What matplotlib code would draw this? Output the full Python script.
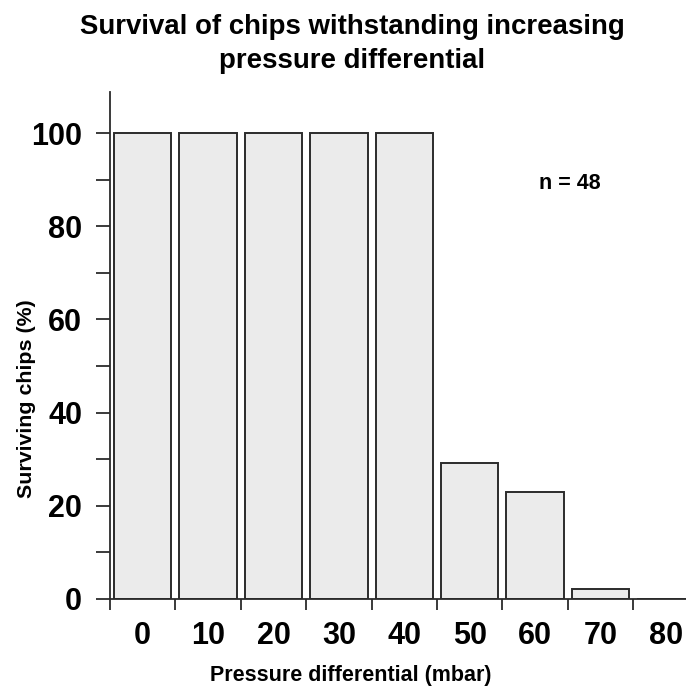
import matplotlib
matplotlib.use("Agg")
import matplotlib.pyplot as plt
import numpy as np

pressure = [0, 10, 20, 30, 40, 50, 60, 70, 80]
surviving = [100, 100, 100, 100, 100, 29.2, 22.9, 2.1, 0]
n_label = "n = 48"
title_lines = ["Survival of chips withstanding increasing", "pressure differential"]

plt.rcParams['font.family'] = ['Liberation Sans', 'DejaVu Sans']
plt.rcParams['font.weight'] = 'bold'

W, H = 686, 687
fig = plt.figure(figsize=(W / 100, H / 100), dpi=100)
left, right, bottom, top = 110, 698.6, 599, 92
ax = fig.add_axes([left / W, (H - bottom) / H, (right - left) / W, (bottom - top) / H])

edge = '#2b2b2b'
ax.bar(pressure, surviving, width=8.8, color='#ebebeb', edgecolor=edge, linewidth=1.4, zorder=2)

ax.set_xlim(-5, 85)
ax.set_ylim(0, 108.8)

for s in ['top', 'right']:
    ax.spines[s].set_visible(False)
for s in ['left', 'bottom']:
    ax.spines[s].set_color(edge)
    ax.spines[s].set_linewidth(1.3)

ax.set_xticks(pressure)
ax.set_xticklabels([str(p) for p in pressure], fontsize=22, fontweight='bold')
ax.set_xticks(np.arange(-5, 90, 10), minor=True)
ax.tick_params(axis='x', which='major', length=0, pad=16)
ax.tick_params(axis='x', which='minor', length=8, width=1.3, color=edge)

ax.set_yticks(np.arange(0, 101, 20))
ax.set_yticklabels([str(v) for v in range(0, 101, 20)], fontsize=22, fontweight='bold')
ax.set_yticks(np.arange(10, 100, 20), minor=True)
ax.tick_params(axis='y', which='both', length=10, width=1.3, color=edge)
ax.tick_params(axis='y', which='major', pad=10)

for line, base in zip(title_lines, [34, 68]):
    fig.text(352 / W, 1 - base / H, line, ha='center', va='baseline', fontsize=19.9, fontweight='bold')
fig.text(351 / W, 1 - 681 / H, "Pressure differential (mbar)", ha='center', va='baseline', fontsize=15.5, fontweight='bold')
fig.text(27 / W, 1 - 399 / H, "Surviving chips (%)", ha='center', va='center', rotation=90, fontsize=15.4, fontweight='bold')
fig.text(570 / W, 1 - 183 / H, n_label, ha='center', va='center', fontsize=15.5, fontweight='bold')

fig.savefig('out.png', dpi=100)
